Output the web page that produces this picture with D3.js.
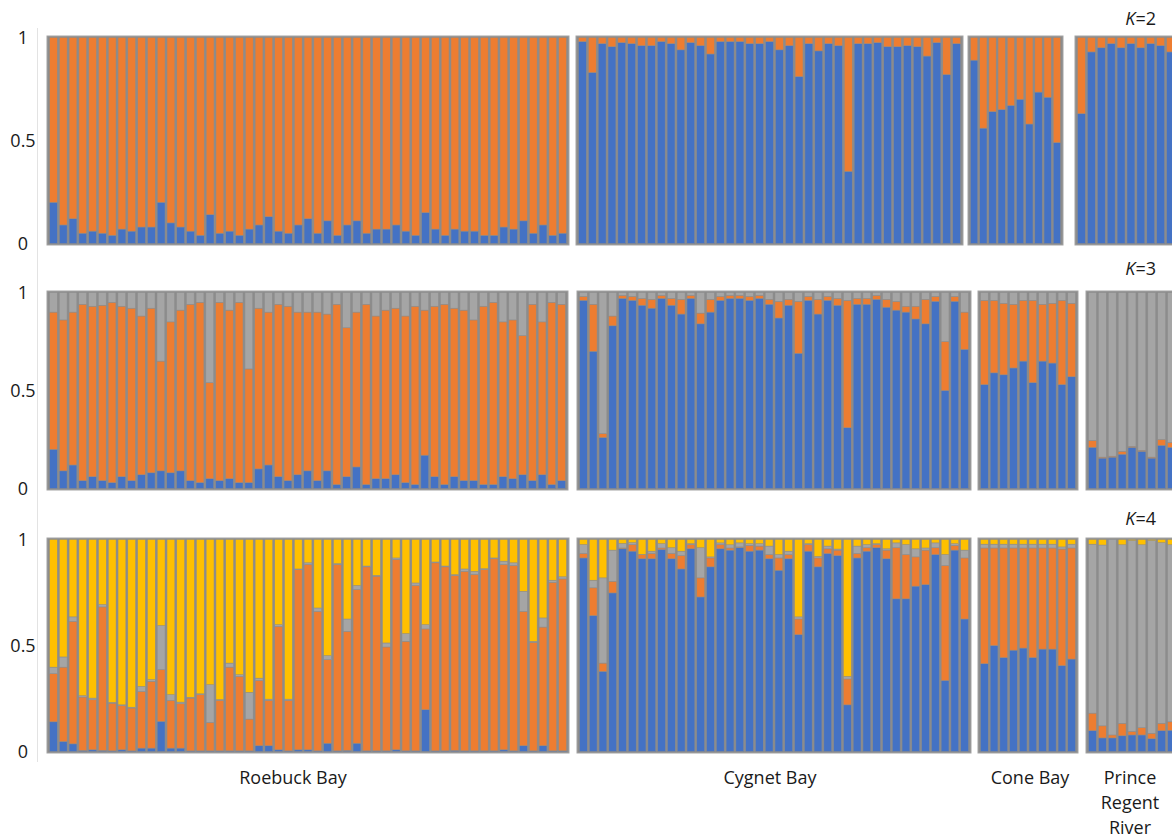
<!DOCTYPE html>
<html>
<head>
<meta charset="utf-8">
<script src="https://cdn.jsdelivr.net/npm/d3@7"></script>
<style>
  html, body { margin: 0; padding: 0; background: #ffffff; }
  svg { display: block; font-family: "Open Sans", "Noto Sans", sans-serif; }
</style>
</head>
<body>
<svg id="chart" width="1172" height="838"></svg>
<script>
// Cluster colours: cluster 1 (blue), 2 (orange), 3 (grey), 4 (yellow)
const clusterColors = ["#4472C4", "#ED7D31", "#A5A5A5", "#FFC000"];
const groupNames = ["Roebuck Bay", "Cygnet Bay", "Cone Bay", "Prince Regent River"];
const yTicks = [0, 0.5, 1];

// ---- K = 2 : membership coefficients per individual [c1, c2] ----
const k2Roebuck = [
  [.20,.80],[.09,.91],[.12,.88],[.05,.95],[.06,.94],[.05,.95],[.04,.96],[.07,.93],[.06,.94],[.08,.92],
  [.08,.92],[.20,.80],[.10,.90],[.08,.92],[.06,.94],[.04,.96],[.14,.86],[.05,.95],[.06,.94],[.04,.96],
  [.07,.93],[.09,.91],[.13,.87],[.06,.94],[.05,.95],[.09,.91],[.12,.88],[.05,.95],[.11,.89],[.04,.96],
  [.09,.91],[.11,.89],[.05,.95],[.07,.93],[.07,.93],[.09,.91],[.06,.94],[.04,.96],[.15,.85],[.07,.93],
  [.04,.96],[.07,.93],[.06,.94],[.06,.94],[.04,.96],[.04,.96],[.08,.92],[.07,.93],[.11,.89],[.05,.95],
  [.09,.91],[.04,.96],[.05,.95]
];
const k2Cygnet = [
  [.98,.02],[.83,.17],[.97,.03],[.955,.045],[.975,.025],[.97,.03],[.96,.04],[.96,.04],[.98,.02],[.97,.03],
  [.94,.06],[.975,.025],[.96,.04],[.92,.08],[.98,.02],[.98,.02],[.98,.02],[.97,.03],[.97,.03],[.98,.02],
  [.94,.06],[.96,.04],[.81,.19],[.97,.03],[.935,.065],[.97,.03],[.96,.04],[.35,.65],[.97,.03],[.97,.03],
  [.975,.025],[.955,.045],[.955,.045],[.96,.04],[.955,.045],[.91,.09],[.975,.025],[.82,.18],[.97,.03]
];
const k2Cone = [
  [.89,.11],[.56,.44],[.64,.36],[.65,.35],[.67,.33],[.70,.30],[.58,.42],[.735,.265],[.71,.29],[.49,.51]
];
const k2Prince = [
  [.63,.37],[.93,.07],[.95,.05],[.97,.03],[.95,.05],[.97,.03],[.95,.05],[.97,.03],[.96,.04],[.93,.07]
];

// ---- K = 3 : [c1, c2, c3] ----
const k3Roebuck = [
  [.20,.70,.10],[.09,.77,.14],[.12,.78,.10],[.04,.90,.06],[.06,.87,.07],[.04,.895,.065],[.03,.92,.05],[.06,.87,.07],[.04,.88,.08],[.07,.81,.12],
  [.08,.84,.08],[.09,.56,.35],[.08,.77,.15],[.09,.82,.09],[.04,.90,.06],[.03,.92,.05],[.05,.49,.46],[.04,.91,.05],[.05,.86,.09],[.03,.92,.05],
  [.03,.58,.39],[.10,.82,.08],[.12,.78,.10],[.06,.88,.06],[.04,.89,.07],[.07,.83,.10],[.09,.81,.10],[.04,.86,.10],[.09,.80,.11],[.02,.92,.06],
  [.06,.76,.18],[.11,.79,.10],[.02,.92,.06],[.05,.83,.12],[.05,.86,.09],[.07,.85,.08],[.03,.85,.12],[.02,.91,.07],[.17,.74,.09],[.06,.87,.07],
  [.02,.92,.06],[.06,.86,.08],[.04,.87,.09],[.04,.82,.14],[.02,.91,.07],[.02,.93,.05],[.06,.79,.15],[.05,.81,.14],[.07,.71,.22],[.04,.90,.06],
  [.07,.78,.15],[.02,.93,.05],[.04,.90,.06]
];
const k3Cygnet = [
  [.96,.02,.02],[.70,.24,.06],[.26,.02,.72],[.83,.05,.12],[.97,.015,.015],[.96,.02,.02],[.935,.035,.03],[.92,.045,.035],[.97,.015,.015],[.935,.035,.03],
  [.89,.075,.035],[.97,.015,.015],[.84,.055,.105],[.90,.065,.035],[.96,.02,.02],[.97,.015,.015],[.97,.015,.015],[.96,.02,.02],[.97,.015,.015],[.94,.025,.035],
  [.87,.085,.045],[.935,.03,.035],[.69,.265,.045],[.96,.02,.02],[.89,.075,.035],[.96,.02,.02],[.935,.035,.03],[.31,.65,.04],[.94,.03,.03],[.94,.03,.03],
  [.965,.02,.015],[.925,.04,.035],[.91,.045,.045],[.90,.03,.07],[.865,.065,.07],[.84,.125,.035],[.955,.025,.02],[.50,.25,.25],[.955,.025,.02],[.71,.19,.10]
];
const k3Cone = [
  [.53,.43,.04],[.59,.37,.04],[.58,.365,.055],[.615,.325,.06],[.65,.31,.04],[.54,.42,.04],[.65,.29,.06],[.64,.305,.055],[.53,.43,.04],[.57,.375,.055]
];
const k3Prince = [
  [.21,.035,.755],[.155,.005,.84],[.16,.005,.835],[.175,.015,.81],[.21,.005,.785],[.19,.005,.805],[.155,.005,.84],[.22,.03,.75],[.21,.025,.765]
];

// ---- K = 4 : [c1, c2, c3, c4] ----
const k4Roebuck = [
  [.14,.227,.031,.602],[.047,.351,.048,.554],[.036,.578,.021,.365],[.005,.252,.006,.737],[.008,.236,.008,.748],
  [.005,.677,.011,.307],[.003,.225,.004,.768],[.008,.208,.004,.78],[.003,.202,.004,.791],[.016,.267,.024,.693],
  [.016,.315,.008,.661],[.142,.244,.208,.406],[.016,.225,.027,.732],[.016,.209,.008,.767],[.003,.249,.004,.744],
  [.003,.265,.004,.728],[.003,.134,.178,.685],[.003,.238,.004,.755],[.003,.395,.019,.583],[.003,.351,.008,.638],
  [.003,.15,.126,.721],[.027,.308,.011,.654],[.027,.214,.006,.753],[.008,.582,.008,.402],[.003,.238,.006,.753],
  [.008,.85,.003,.139],[.008,.874,.008,.11],[.003,.658,.016,.323],[.039,.394,.019,.548],[.003,.879,.004,.114],
  [.005,.562,.058,.375],[.039,.725,.019,.217],[.003,.868,.004,.125],[.003,.824,.004,.169],[.003,.49,.019,.488],
  [.008,.898,.007,.087],[.003,.517,.036,.444],[.003,.78,.012,.205],[.197,.381,.02,.402],[.003,.887,.004,.106],
  [.003,.868,.004,.125],[.005,.825,.004,.166],[.003,.847,.011,.139],[.003,.832,.015,.15],[.003,.855,.004,.138],
  [.003,.906,.004,.087],[.008,.874,.016,.102],[.003,.874,.013,.11],[.027,.634,.095,.244],[.003,.512,.005,.48],
  [.027,.56,.043,.37],[.003,.795,.01,.192],[.003,.811,.01,.176]
];
const k4Cygnet = [
  [.913,.021,.042,.024],[.641,.131,.036,.192],[.378,.039,.402,.181],[.748,.055,.147,.05],[.956,.004,.021,.019],
  [.945,.031,.009,.015],[.909,.02,.001,.07],[.909,.025,.011,.055],[.953,.007,.02,.02],[.909,.025,.027,.039],
  [.861,.063,.021,.055],[.956,.02,.004,.02],[.729,.09,.142,.039],[.871,.042,.005,.082],[.956,.02,.008,.016],
  [.95,.01,.015,.025],[.961,.004,.019,.016],[.945,.027,.008,.02],[.95,.019,.011,.02],[.909,.02,.04,.031],
  [.855,.058,.016,.071],[.909,.02,.016,.055],[.551,.074,.01,.365],[.945,.031,.004,.02],[.871,.042,.007,.08],
  [.934,.022,.013,.031],[.924,.026,.005,.045],[.22,.122,.012,.646],[.913,.021,.035,.031],[.945,.016,.015,.024],
  [.961,.015,.004,.02],[.909,.041,.006,.044],[.72,.241,.023,.016],[.72,.209,.047,.024],[.78,.138,.038,.044],
  [.787,.163,.01,.04],[.929,.032,.023,.016],[.335,.542,.052,.071],[.95,.022,.008,.02],[.625,.288,.037,.05]
];
const k4Cone = [
  [.414,.546,.018,.022],[.50,.46,.018,.022],[.443,.517,.018,.022],[.478,.482,.018,.022],[.488,.472,.018,.022],
  [.443,.517,.018,.022],[.483,.477,.018,.022],[.483,.477,.018,.022],[.405,.55,.01,.035],[.436,.524,.018,.022]
];
const k4Prince = [
  [.098,.083,.797,.022],[.064,.057,.853,.026],[.064,.014,.922,0],[.074,.059,.842,.025],[.078,.017,.9,.005],
  [.078,.034,.863,.025],[.06,.026,.909,.005],[.098,.035,.852,.015],[.10,.04,.835,.025]
];

// Panel layout (one row per K); box extents are pixel positions of each population frame
const panels = [
  { k: 2, groups: [k2Roebuck, k2Cygnet, k2Cone, k2Prince], top: 36, bottom: 245, labelY: 19,
    boxes: [[47, 569], [576, 963], [968, 1063], [1075, 1177]] },
  { k: 3, groups: [k3Roebuck, k3Cygnet, k3Cone, k3Prince], top: 291, bottom: 490, labelY: 269,
    boxes: [[47, 568], [577, 971], [978, 1078], [1086, 1178]] },
  { k: 4, groups: [k4Roebuck, k4Cygnet, k4Cone, k4Prince], top: 538, bottom: 753, labelY: 519,
    boxes: [[47, 569], [577, 971], [978, 1078], [1086, 1178]] }
];

const svg = d3.select("#chart");
const sepColor = "#8c8c8c";
const textColor = "#1a1a1a";
const fontSize = 18;

// faint vertical rule on the left of the figure
svg.append("line")
  .attr("x1", 37.5).attr("x2", 37.5).attr("y1", 28).attr("y2", 762)
  .attr("stroke", "#e3e3e3").attr("stroke-width", 1);

panels.forEach(p => {
  const y = d3.scaleLinear().domain([0, 1]).range([p.bottom - 1.5, p.top + 1.5]);
  const g = svg.append("g");

  p.groups.forEach((rows, gi) => {
    const [x0, x1] = p.boxes[gi];
    const x = d3.scaleBand()
      .domain(d3.range(rows.length))
      .range([x0 + 1.5, x1 - 1.5])
      .paddingInner(0.2)
      .paddingOuter(0.1);

    const box = g.append("g");
    box.append("rect")
      .attr("x", x0).attr("y", p.top)
      .attr("width", x1 - x0).attr("height", p.bottom - p.top)
      .attr("fill", sepColor)
      .attr("stroke", "#a3a3a3").attr("stroke-width", 1);

    const nk = rows[0].length;
    const stacked = d3.stack().keys(d3.range(nk))(rows);
    stacked.forEach((layer, ci) => {
      box.selectAll(null)
        .data(layer.map((s, i) => ({ s, i })))
        .join("rect")
        .attr("x", d => x(d.i))
        .attr("width", x.bandwidth())
        .attr("y", d => y(d.s[1]))
        .attr("height", d => Math.max(0, y(d.s[0]) - y(d.s[1])))
        .attr("fill", clusterColors[ci])
        .attr("stroke", sepColor)
        .attr("stroke-width", 0.5);
    });
  });

  // y-axis tick labels
  const axis = d3.axisLeft(y).tickValues(yTicks).tickSize(0)
    .tickFormat(d => d === 0.5 ? "0.5" : d3.format("d")(d));
  const ax = svg.append("g").attr("transform", "translate(23,0)").call(axis);
  ax.select(".domain").remove();
  ax.selectAll("text")
    .attr("x", 0).attr("text-anchor", "middle")
    .attr("font-family", "'Open Sans', sans-serif")
    .attr("font-size", fontSize).attr("fill", textColor);

  // K label
  const kl = svg.append("text")
    .attr("x", 1156).attr("y", p.labelY).attr("dy", "0.35em")
    .attr("text-anchor", "end").attr("font-size", fontSize).attr("fill", textColor);
  kl.append("tspan").attr("font-style", "italic").text("K");
  kl.append("tspan").text("=" + p.k);
});

// Population labels under the bottom panel
const labelLines = [["Roebuck Bay"], ["Cygnet Bay"], ["Cone Bay"], ["Prince", "Regent", "River"]];
const labelCenters = [293, 770, 1030, 1130];
labelLines.forEach((lines, i) => {
  const t = svg.append("text")
    .attr("x", labelCenters[i]).attr("y", 784)
    .attr("text-anchor", "middle").attr("font-size", fontSize).attr("fill", textColor);
  lines.forEach((ln, j) => {
    t.append("tspan").attr("x", labelCenters[i]).attr("dy", j === 0 ? 0 : 25).text(ln);
  });
});
</script>
</body>
</html>
